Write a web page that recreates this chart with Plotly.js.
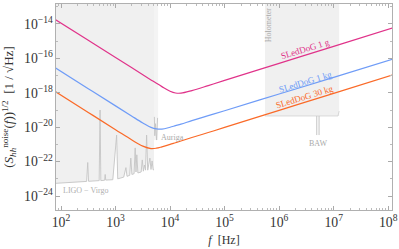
<!DOCTYPE html>
<html>
<head>
<meta charset="utf-8">
<script src="https://cdn.plot.ly/plotly-3.0.1.min.js"></script>
<style>html,body{margin:0;padding:0;background:#fff;}#chart{width:399px;height:249px;}</style>
</head>
<body>
<div id="chart"></div>
<script>
// Frequencies [Hz] for the SLedDoG curves
const freq = [79.4, 316, 1000, 1995, 3162, 4467, 5623, 7079, 10000, 12589, 15849, 25119, 50119, 1e5, 1e6, 1e7, 1.26e8];
// Noise amplitude [1/sqrt(Hz)]
const sled1g  = [1.78e-14, 1.12e-15, 1.12e-16, 2.82e-17, 1.12e-17, 5.62e-18, 3.55e-18, 2.29e-18, 1.24e-18, 9.77e-19, 9.55e-19, 1.35e-18, 2.63e-18, 5.25e-18, 5.13e-17, 5.01e-16, 6.17e-15];
const sled1kg = [2.75e-17, 1.74e-18, 1.74e-19, 4.37e-20, 1.78e-20, 9.77e-21, 7.94e-21, 7.76e-21, 1.0e-20, 1.23e-20, 1.51e-20, 2.40e-20, 4.68e-20, 9.12e-20, 8.51e-19, 7.94e-18, 9.33e-17];
const sled30kg = [1.15e-18, 7.24e-20, 7.24e-21, 1.82e-21, 7.94e-22, 5.75e-22, 6.03e-22, 7.24e-22, 1.0e-21, 1.26e-21, 1.58e-21, 2.51e-21, 4.90e-21, 9.77e-21, 9.55e-20, 9.33e-19, 1.15e-17];

// LIGO - Virgo sensitivity (with lines)
const ligoF = [81, 158, 257, 295, 309, 320, 501, 520, 537, 631, 646, 661, 891, 1047, 1096, 1413, 1549, 1622, 1820, 1905, 1995, 2188, 2291, 2371, 2455, 2570, 2951, 3090, 3236, 3388, 3548, 3715, 3890, 4266, 4467, 4677, 4898, 5080];
const ligoS = [5.5e-24, 6.3e-24, 6.8e-24, 7.1e-24, 8.9e-23, 7.2e-24, 7.9e-24, 1.0e-19, 7.9e-24, 8.3e-24, 1.8e-23, 8.5e-24, 8.9e-24, 3.5e-21, 1.0e-23, 1.26e-23, 4.5e-23, 1.4e-23, 1.6e-23, 1.6e-22, 1.8e-23, 2.0e-23, 6.3e-22, 2.5e-23, 2.5e-22, 2.2e-23, 2.5e-23, 1.26e-22, 2.8e-23, 6.3e-23, 3.2e-23, 3.5e-21, 3.2e-23, 1.6e-22, 3.5e-23, 1.1e-22, 3.3e-23, 3.4e-23];

// Auriga
const aurigaBandF = [5080, 6030];
const aurigaBandS = [1.8e-21, 1e-12];
const aurigaF = [5150, 5250, 5400, 5650, 5900];
const aurigaS = [4.0e-20, 3.2e-21, 1.6e-20, 1.8e-21, 3.5e-20];

// Holometer
const holoF = [5.5e5, 1.2e7, 1.26e7];
const holoS = [4.5e-20, 4.5e-20, 8.7e-20];
const holoTop = 1e-12;

// BAW
const bawF = [4.9e6, 5.4e6];
const bawS = [4.5e-20, 3.5e-21];

const topS = 1e-12;
const gray = '#c4c4c4';
const serif = 'Liberation Serif, Times New Roman, serif';

const traces = [
  { // LIGO shaded region
    x: ligoF.concat([ligoF[ligoF.length-1], ligoF[0]]),
    y: ligoS.concat([topS, topS]),
    fill: 'toself', fillcolor: '#f0f0f0', mode: 'lines', line: {width: 0}, hoverinfo: 'skip'
  },
  { // Auriga band
    x: [aurigaBandF[0], aurigaBandF[1], aurigaBandF[1], aurigaBandF[0]],
    y: [aurigaBandS[0], aurigaBandS[0], aurigaBandS[1], aurigaBandS[1]],
    fill: 'toself', fillcolor: '#f4f4f4', mode: 'lines', line: {width: 0}, hoverinfo: 'skip'
  },
  { // Holometer region
    x: [holoF[0], holoF[2], holoF[2], holoF[0]],
    y: [holoS[0], holoS[0], holoTop, holoTop],
    fill: 'toself', fillcolor: '#f0f0f0', mode: 'lines', line: {width: 0}, hoverinfo: 'skip'
  },
  { x: ligoF, y: ligoS, mode: 'lines', line: {color: gray, width: 0.9} },
  { x: aurigaF, y: aurigaS, mode: 'lines', line: {color: gray, width: 0.9} },
  { x: holoF, y: holoS, mode: 'lines', line: {color: '#d0d0d0', width: 0.8} },
  { x: [bawF[0], bawF[0], null, bawF[1], bawF[1]], y: [bawS[0], bawS[1], null, bawS[0], bawS[1]], mode: 'lines', line: {color: gray, width: 1}, connectgaps: false },
  { x: freq, y: sled1g, mode: 'lines', line: {color: '#e0338a', width: 1.2, shape: 'spline'} },
  { x: freq, y: sled1kg, mode: 'lines', line: {color: '#6f9cf7', width: 1.2, shape: 'spline'} },
  { x: freq, y: sled30kg, mode: 'lines', line: {color: '#fa6a28', width: 1.2, shape: 'spline'} }
];

const axisCommon = {
  type: 'log', showgrid: false, zeroline: false,
  ticks: 'inside', ticklen: 4, tickcolor: '#aaa', tickwidth: 1,
  showline: true, linecolor: '#b0b0b0', linewidth: 1, mirror: 'allticks',
  exponentformat: 'power',
  minor: {ticks: 'inside', ticklen: 2, tickcolor: '#bbb', showgrid: false},
  tickfont: {family: serif, size: 11, color: '#333'}
};

const layout = {
  width: 399, height: 249,
  margin: {l: 56, r: 7, t: 4, b: 39},
  paper_bgcolor: '#fff', plot_bgcolor: '#fff',
  showlegend: false,
  xaxis: Object.assign({}, axisCommon, {
    range: [1.908, 8.07], dtick: 1,
    title: {text: '<i>f</i>  [Hz]', font: {family: serif, size: 12, color: '#333'}, standoff: 6}
  }),
  yaxis: Object.assign({}, axisCommon, {
    range: [-24.81, -12.84], dtick: 2,
    title: {text: '(<i>S</i><sub><i>hh</i></sub><sup>noise</sup>(<i>f</i>))<sup>1/2</sup>  [1 / √Hz]', font: {family: serif, size: 13, color: '#333'}, standoff: 8}
  }),
  annotations: [
    {x: 6.477, y: -15.45, text: 'SLedDoG 1 g', showarrow: false, textangle: -17, font: {family: serif, size: 9, color: '#e0338a'}},
    {x: 6.477, y: -17.36, text: 'SLedDoG 1 kg', showarrow: false, textangle: -17, font: {family: serif, size: 9, color: '#6f9cf7'}},
    {x: 6.46, y: -18.26, text: 'SLedDoG 30 kg', showarrow: false, textangle: -17, font: {family: serif, size: 9, color: '#fa6a28'}},
    {x: 5.80, y: -14.06, text: 'Holometer', showarrow: false, textangle: -90, font: {family: serif, size: 8, color: '#aaa'}},
    {x: 6.716, y: -20.92, text: 'BAW', showarrow: false, font: {family: serif, size: 8, color: '#aaa'}},
    {x: 3.79, y: -20.57, text: 'Auriga', xanchor: 'left', showarrow: false, font: {family: serif, size: 8, color: '#aaa'}},
    {x: 2.0, y: -23.65, text: 'LIGO − Virgo', xanchor: 'left', showarrow: false, font: {family: serif, size: 8, color: '#b0b0b0'}}
  ]
};

Plotly.newPlot('chart', traces, layout, {staticPlot: true, displayModeBar: false});
</script>
</body>
</html>
